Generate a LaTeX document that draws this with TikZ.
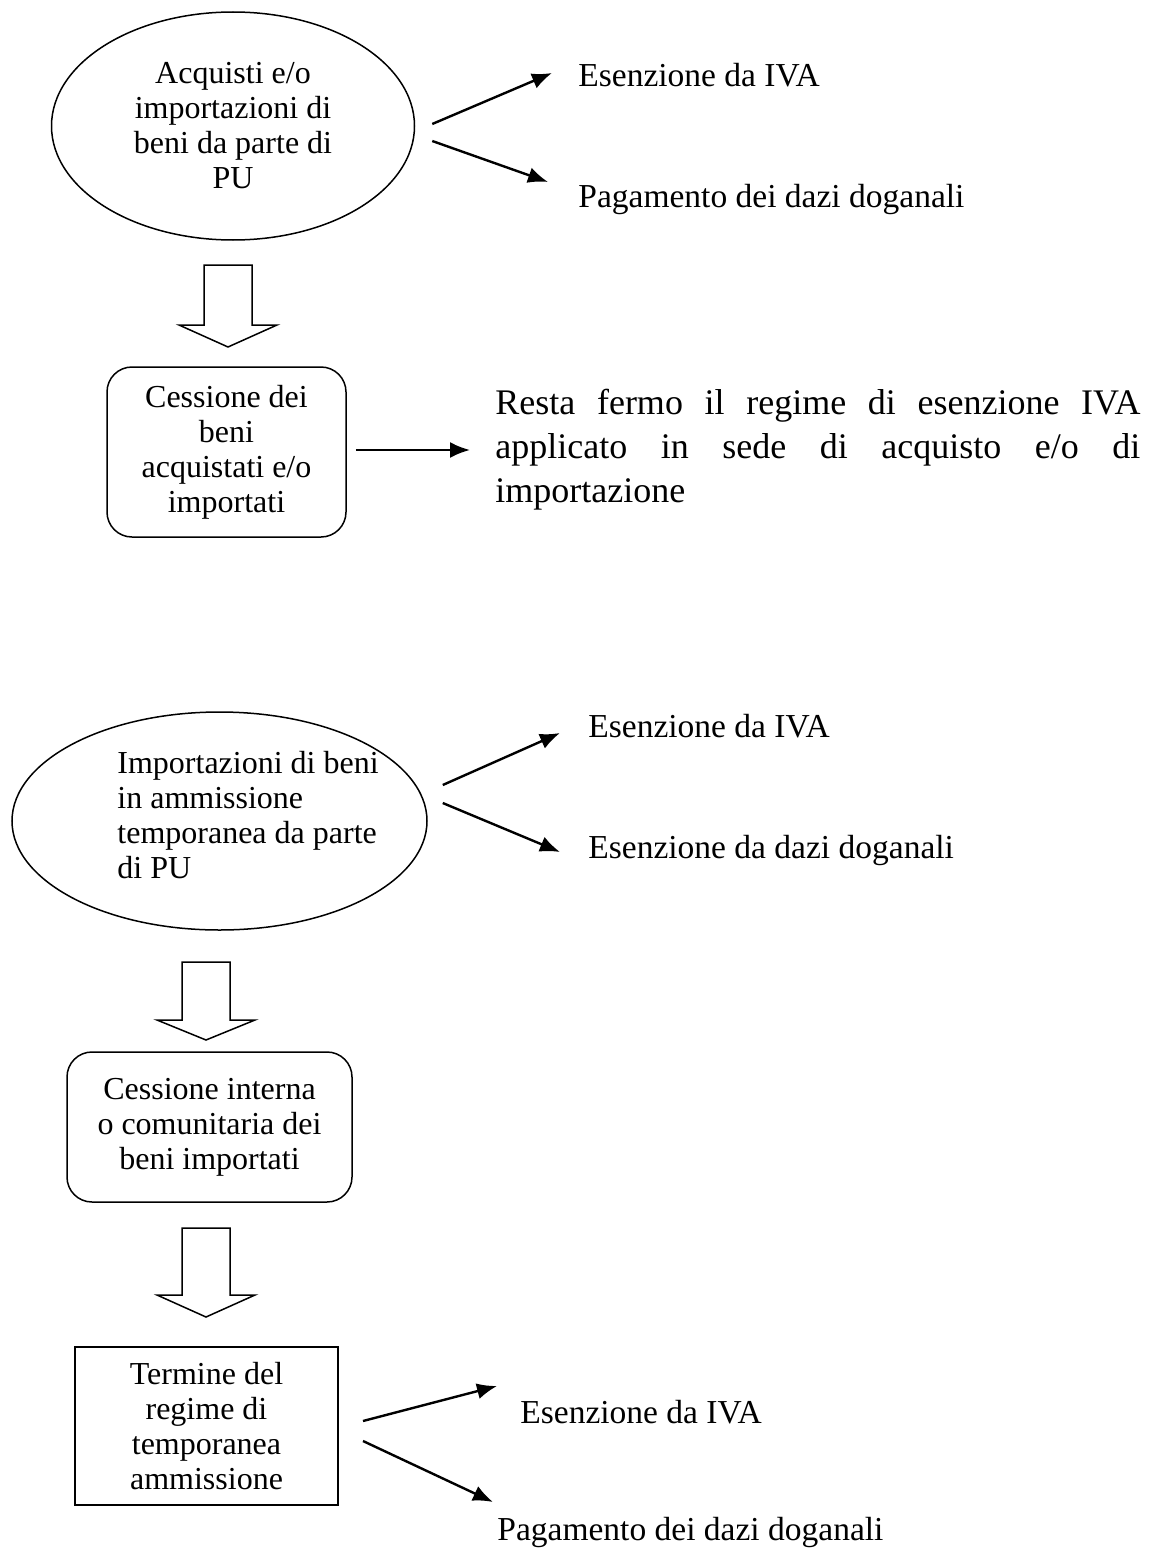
\documentclass[tikz,border=0pt]{standalone}
\usepackage{fontspec}
\setmainfont{Liberation Serif}
\usetikzlibrary{shapes.geometric,arrows.meta,positioning,calc}
\tikzstyle{oval} = [draw, ellipse, line width=.75pt, inner sep=0pt]
\tikzstyle{roundbox} = [draw, rectangle, rounded corners=12.5pt, line width=.75pt, align=center]
\tikzstyle{plainbox} = [draw, rectangle, line width=1pt, align=center]
\tikzstyle{outcome} = [anchor=base west, inner sep=0pt, font=\fontsize{16.75}{18}\selectfont]
\tikzstyle{hollow} = [draw, line width=.75pt, line join=miter]
\tikzstyle{Arrow} = [-{Latex[length=10pt,width=8pt]}, line width=1.2pt]

\begin{document}
\begin{tikzpicture}[x=0.5pt, y=-0.5pt, font=\fontsize{16}{17.5}\selectfont]
            \useasboundingbox (0,0) rectangle (1148,1552);
            %%%%% First purchase %%%%%
            \node (E1) [oval, align=center, minimum width=181.5pt, minimum height=114pt] at (233,126) {Acquisti e/o\\importazioni di\\beni da parte di\\PU};
            \node (A1) [outcome] at (578,87) {Esenzione da IVA};
            \node (B1) [outcome] at (578,207) {Pagamento dei dazi doganali};
            \draw [Arrow] ($(E1.east)+(17,-2)$) -- ($(A1.base west)+(-26,-14)$);
            \draw [Arrow] ($(E1.east)+(17,15)$) -- ($(B1.base west)+(-30,-25)$);
            \node (C1) [roundbox, minimum width=119.5pt, minimum height=85pt] at (226.5,452) {Cessione dei\\beni\\acquistati e/o\\importati};
            \node (R1) [anchor=west, inner sep=0pt, text width=322.5pt, align=justify, font=\fontsize{18}{22}\selectfont] at (495,450)
                {\hyphenpenalty=10000 Resta fermo il regime di esenzione IVA\linebreak applicato in sede di acquisto e/o di\linebreak importazione};
            \draw [Arrow] ($(C1.east)+(9,-2)$) -- ($(R1.west)+(-25,0)$);

            %%%%% Temporary admission %%%%%
            \node (E2) [oval, minimum width=207.5pt, minimum height=109pt] at (219.5,821) {};
            \node (T2) [anchor=west, align=left, inner sep=0pt] at (117,815) {Importazioni di beni\\in ammissione\\temporanea da parte\\di PU};
            \node (A2) [outcome] at (588,737) {Esenzione da IVA};
            \node (B2) [outcome] at (588,858) {Esenzione da dazi doganali};
            \draw [Arrow] ($(E2.east)+(15,-36)$) -- ($(A2.base west)+(-28,-4)$);
            \draw [Arrow] ($(E2.east)+(15,-18)$) -- ($(B2.base west)+(-28,-6)$);
            \node (C2) [roundbox, minimum width=142.5pt, minimum height=75pt] at (209.5,1127) {Cessione interna\\o comunitaria dei\\beni importati};
            \node (D2) [plainbox, minimum width=131.5pt, minimum height=79pt] at (206.5,1426) {Termine del\\regime di\\temporanea\\ammissione};
            \node (A3) [outcome] at (520,1423) {Esenzione da IVA};
            \node (B3) [outcome] at (497,1540) {Pagamento dei dazi doganali};
            \draw [Arrow] ($(D2.east)+(24,-5)$) -- ($(A3.base west)+(-23,-37)$);
            \draw [Arrow] ($(D2.east)+(24,15)$) -- ($(B3.base west)+(-4,-38)$);

            %%%%% Hollow arrows %%%%%
            \foreach \bx/\ya/\yb/\yc in {228/265/325/347, 206/962/1020/1040, 206/1228/1295/1317}
                \draw [hollow] (\bx-24,\ya) -- (\bx+24,\ya) -- (\bx+24,\yb) -- (\bx+49,\yb) -- (\bx,\yc) -- (\bx-49,\yb) -- (\bx-24,\yb) -- cycle;
\end{tikzpicture}
\end{document}
